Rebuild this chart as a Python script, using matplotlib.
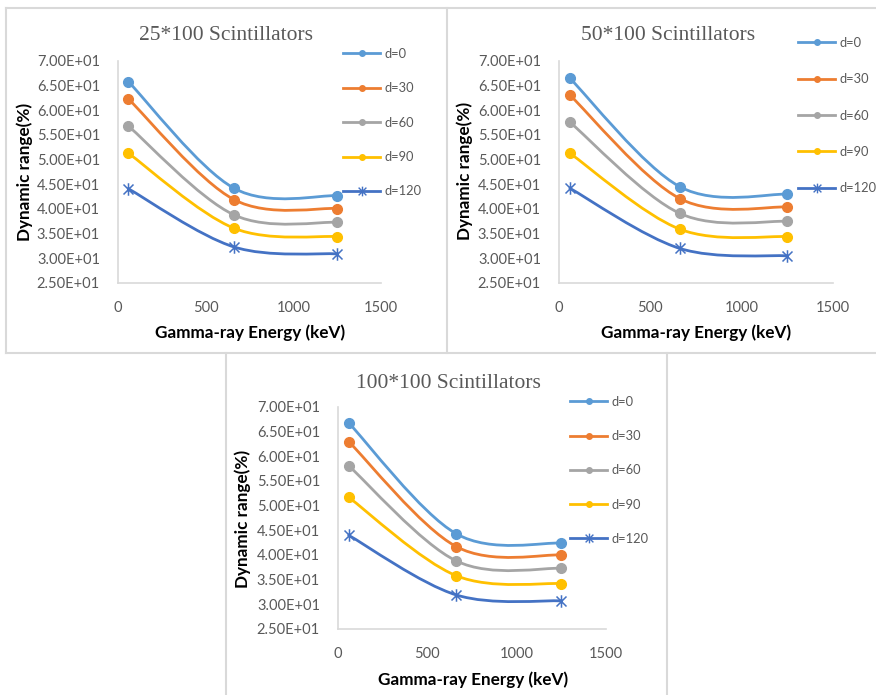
import numpy as np
import matplotlib
matplotlib.use("Agg")
import matplotlib.pyplot as plt
from matplotlib.path import Path
from matplotlib.patches import PathPatch
from matplotlib.lines import Line2D

W, H = 876, 695

# gamma-ray energies (keV)
energy = [59.5, 662, 1250]
labels = ["d=0", "d=30", "d=60", "d=90", "d=120"]

# dynamic range (%) for each d, per panel
dr_25 = [[65.8, 44.2, 42.7],
         [62.3, 41.9, 40.1],
         [56.8, 38.8, 37.3],
         [51.3, 36.1, 34.4],
         [44.1, 32.3, 30.9]]
dr_50 = [[66.5, 44.5, 43.0],
         [63.1, 42.1, 40.4],
         [57.6, 39.1, 37.5],
         [51.3, 35.9, 34.4],
         [44.2, 32.0, 30.5]]
dr_100 = [[66.8, 44.3, 42.4],
          [63.0, 41.7, 40.0],
          [58.1, 38.8, 37.3],
          [51.7, 35.8, 34.2],
          [44.0, 31.9, 30.7]]

colors = ["#5B9BD5", "#ED7D31", "#A5A5A5", "#FFC000", "#4472C4"]

# excel-like star marker: vertical bar plus an x
star = Path([(0, -1), (0, 1), (-0.8, -0.8), (0.8, 0.8), (-0.8, 0.8), (0.8, -0.8)],
            [Path.MOVETO, Path.LINETO, Path.MOVETO, Path.LINETO, Path.MOVETO, Path.LINETO])

plt.rcParams['font.family'] = ['Lato', 'DejaVu Sans']


def fx(x):
    return x / W


def fy(y):
    return 1 - y / H


def smooth_path(x, y):
    # bezier through the points, like excel's "smoothed line"
    p = np.column_stack([x, y]).astype(float)
    n = len(p)
    verts = [p[0]]
    codes = [Path.MOVETO]
    for i in range(n - 1):
        p0 = p[max(i - 1, 0)]
        p1 = p[i]
        p2 = p[i + 1]
        p3 = p[min(i + 2, n - 1)]
        c1 = p1 + (p2 - p0) / 6
        c2 = p2 - (p3 - p1) / 6
        verts += [c1, c2, p2]
        codes += [Path.CURVE4] * 3
    return Path(verts, codes)


fig = plt.figure(figsize=(W / 100, H / 100), dpi=100)

# panel frames
frame = dict(color="#d9d9d9", lw=1.5, transform=fig.transFigure)
fig.add_artist(Line2D([fx(6), 1], [fy(8), fy(8)], **frame))
fig.add_artist(Line2D([fx(6), 1], [fy(353), fy(353)], **frame))
fig.add_artist(Line2D([fx(6), fx(6)], [fy(8), fy(353)], **frame))
fig.add_artist(Line2D([fx(447), fx(447)], [fy(8), fy(353)], **frame))
fig.add_artist(Line2D([fx(226), fx(226)], [fy(353), 0], **frame))
fig.add_artist(Line2D([fx(667), fx(667)], [fy(353), 0], **frame))

panels = [
    # data, title, axes box (x0, x1, ytop, ybot), title pos, ylabel pos, xlabel pos, legend (x, ytop, spacing)
    (dr_25, "25*100 Scintillators", (118, 381, 61, 283), (226, 36), (25, 172), (250, 333), (343, 48, 1.73)),
    (dr_50, "50*100 Scintillators", (559, 833, 61, 283), (668, 36), (465, 171), (696, 333), (798, 37, 1.88)),
    (dr_100, "100*100 Scintillators", (338, 606, 407, 629), (448, 383), (243, 519), (473, 680), (570, 396, 1.72)),
]

for data, title, box, tpos, ypos, xpos, leg in panels:
    x0, x1, yt, yb = box
    ax = fig.add_axes([fx(x0), fy(yb), (x1 - x0) / W, (yb - yt) / H])
    for vals, c, lab in zip(data, colors, labels):
        ax.add_patch(PathPatch(smooth_path(energy, vals), fc="none", ec=c, lw=2, capstyle="round"))
        if lab == "d=120":
            ax.plot(energy, vals, ls="none", marker=star, ms=9, mec=c, mew=1.1, zorder=3)
        else:
            ax.plot(energy, vals, ls="none", marker="o", ms=7, color=c, zorder=3)
    ax.set_xlim(0, 1500)
    ax.set_ylim(25, 70)
    ax.set_xticks([0, 500, 1000, 1500])
    ax.set_yticks(np.arange(25, 71, 5))
    ax.set_yticklabels([f"{v:.2E}" for v in np.arange(25, 71, 5)])
    ax.tick_params(length=0, labelsize=10.5, labelcolor="#595959")
    ax.tick_params(axis="y", pad=13)
    ax.tick_params(axis="x", pad=13)
    for s in ["top", "right"]:
        ax.spines[s].set_visible(False)
    for s in ["left", "bottom"]:
        ax.spines[s].set_color("#d9d9d9")
        ax.spines[s].set_linewidth(1.2)

    fig.text(fx(tpos[0]), fy(tpos[1]), title, ha="center", va="center",
             family="Liberation Serif", fontsize=15.5, color="#595959")
    fig.text(fx(ypos[0]), fy(ypos[1]), "Dynamic range(%)", ha="center", va="center",
             rotation=90, fontsize=12.3, fontweight="bold", color="black")
    fig.text(fx(xpos[0]), fy(xpos[1]), "Gamma-ray Energy (keV)", ha="center", va="center",
             fontsize=12.3, fontweight="bold", color="black")

    handles = []
    for c, lab in zip(colors, labels):
        if lab == "d=120":
            handles.append(Line2D([], [], color=c, lw=2, marker=star, ms=7, mec=c, mew=1))
        else:
            handles.append(Line2D([], [], color=c, lw=2, marker="o", ms=4))
    fig.legend(handles, labels, loc="upper left",
               bbox_to_anchor=(fx(leg[0]), fy(leg[1])), bbox_transform=fig.transFigure,
               frameon=False, borderpad=0, borderaxespad=0, handlelength=2.9,
               handletextpad=0.3, labelspacing=leg[2], fontsize=9.3, labelcolor="#595959")

fig.savefig("out.png", dpi=100)
